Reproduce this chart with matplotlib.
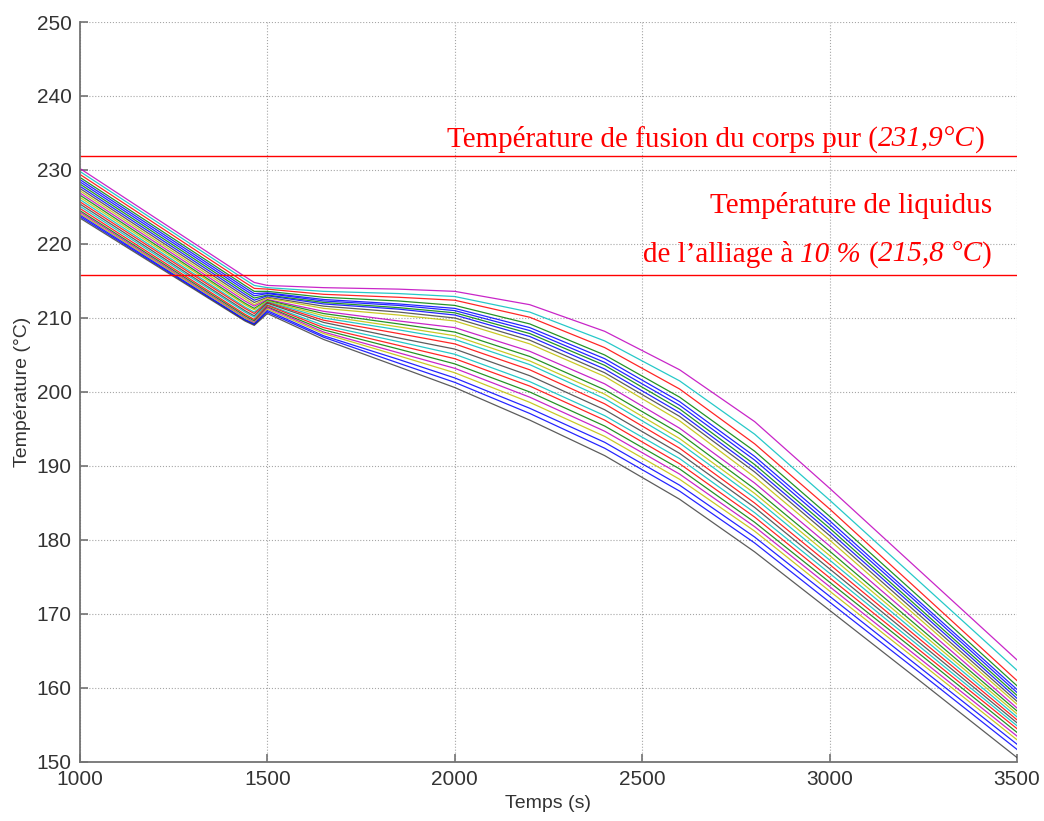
import matplotlib
matplotlib.use("Agg")
import matplotlib.pyplot as plt
from matplotlib.transforms import ScaledTranslation

# time stamps (s) where each cooling curve was read
temps_s = [1000, 1440, 1465, 1500, 1650, 1850, 2000, 2200, 2400, 2600, 2800, 3000, 3250, 3500]

# temperature (°C) of every thermocouple, top curve first
curves = [
    [230.2, 215.6, 214.8, 214.4, 214.1, 213.9, 213.6, 211.8, 208.2, 203.0, 196.0, 187.0, 175.4, 163.8],
    [229.8, 215.2, 214.4, 214.1, 213.6, 213.3, 212.9, 210.8, 206.9, 201.5, 194.3, 185.4, 173.9, 162.4],
    [229.4, 214.8, 214.0, 213.9, 213.2, 212.8, 212.4, 210.1, 206.0, 200.4, 193.0, 184.2, 172.6, 161.0],
    [229.0, 214.4, 213.6, 213.6, 212.8, 212.3, 211.7, 209.2, 205.0, 199.3, 192.0, 183.2, 171.8, 160.3],
    [228.7, 214.1, 213.3, 213.4, 212.5, 211.9, 211.3, 208.7, 204.5, 198.7, 191.3, 182.6, 171.2, 159.8],
    [228.4, 213.8, 213.0, 213.3, 212.3, 211.7, 211.0, 208.3, 204.0, 198.2, 190.8, 182.1, 170.8, 159.4],
    [228.1, 213.5, 212.7, 213.1, 212.1, 211.4, 210.7, 207.9, 203.6, 197.7, 190.2, 181.6, 170.3, 159.0],
    [227.8, 213.2, 212.4, 213.0, 211.9, 211.2, 210.4, 207.5, 203.1, 197.2, 189.7, 181.1, 169.9, 158.6],
    [227.5, 212.9, 212.1, 212.8, 211.6, 210.8, 210.0, 207.0, 202.6, 196.7, 189.2, 180.6, 169.4, 158.2],
    [227.2, 212.6, 211.8, 212.7, 211.3, 210.4, 209.6, 206.5, 202.1, 196.1, 188.5, 180.0, 168.9, 157.8],
    [226.9, 212.3, 211.6, 212.5, 210.9, 209.6, 208.7, 205.5, 201.1, 195.1, 187.7, 179.2, 168.3, 157.3],
    [226.6, 212.0, 211.3, 212.4, 210.6, 209.2, 208.1, 204.8, 200.3, 194.4, 186.9, 178.5, 167.7, 156.9],
    [226.3, 211.8, 211.1, 212.3, 210.3, 208.8, 207.6, 204.2, 199.7, 193.7, 186.3, 177.9, 167.2, 156.5],
    [226.0, 211.5, 210.8, 212.2, 210.0, 208.4, 207.1, 203.7, 199.1, 193.1, 185.7, 177.3, 166.7, 156.1],
    [225.7, 211.3, 210.6, 212.1, 209.7, 207.9, 206.5, 203.0, 198.4, 192.4, 185.0, 176.7, 166.2, 155.7],
    [225.4, 211.0, 210.3, 212.0, 209.4, 207.3, 205.8, 202.2, 197.6, 191.7, 184.4, 176.1, 165.7, 155.3],
    [225.1, 210.8, 210.1, 211.8, 209.0, 206.8, 205.1, 201.4, 196.8, 191.0, 183.7, 175.5, 165.2, 154.9],
    [224.8, 210.5, 209.8, 211.7, 208.7, 206.3, 204.5, 200.8, 196.2, 190.3, 183.1, 174.9, 164.7, 154.5],
    [224.5, 210.3, 209.6, 211.5, 208.4, 205.8, 203.8, 200.0, 195.4, 189.6, 182.4, 174.3, 164.2, 154.0],
    [224.3, 210.1, 209.4, 211.4, 208.1, 205.3, 203.2, 199.3, 194.7, 188.9, 181.8, 173.7, 163.6, 153.5],
    [224.1, 210.0, 209.3, 211.2, 207.9, 204.9, 202.6, 198.6, 194.0, 188.2, 181.2, 173.1, 163.1, 153.0],
    [223.9, 209.8, 209.2, 211.0, 207.6, 204.4, 201.9, 197.8, 193.2, 187.4, 180.4, 172.4, 162.4, 152.4],
    [223.7, 209.7, 209.1, 210.8, 207.4, 203.9, 201.3, 197.1, 192.4, 186.6, 179.6, 171.6, 161.7, 151.7],
    [223.5, 209.6, 209.0, 210.6, 207.1, 203.4, 200.6, 196.2, 191.4, 185.5, 178.4, 170.5, 160.6, 150.6],
]

T_fusion = 231.9
T_liquidus = 215.8

x_ticks = [1000, 1500, 2000, 2500, 3000, 3500]
y_ticks = [150, 160, 170, 180, 190, 200, 210, 220, 230, 240, 250]

# old matlab colour order
mcol = {
    "b": (0, 0, 1), "g": (0, 0.5, 0), "r": (1, 0, 0), "c": (0, 0.75, 0.75),
    "m": (0.75, 0, 0.75), "y": (0.75, 0.75, 0), "k": (0.25, 0.25, 0.25),
}
curve_colors = ["m", "c", "r", "g", "b", "b", "g", "b", "k", "y", "m", "g",
                "y", "c", "r", "k", "c", "r", "g", "m", "y", "b", "b", "k"]

fig = plt.figure(figsize=(10.44, 8.21), dpi=100)
ax = fig.add_axes([0.0766, 0.0719, 0.8975, 0.9013])

for vals, c in zip(curves, curve_colors):
    ax.plot(temps_s, vals, color=mcol[c], lw=0.9, alpha=0.85)

ax.axhline(T_fusion, color="red", lw=1.0)
ax.axhline(T_liquidus, color="red", lw=1.0)

ax.set_xlim(1000, 3500)
ax.set_ylim(150, 250)
ax.set_xticks(x_ticks)
ax.set_yticks(y_ticks)
ax.grid(True, linestyle=":", color="0.65", lw=0.8)
for s in ["top", "right"]:
    ax.spines[s].set_visible(False)
for s in ["left", "bottom"]:
    ax.spines[s].set_color("0.45")
    ax.spines[s].set_linewidth(1.3)
ax.tick_params(direction="in", length=6, width=1.2, color="0.45",
               labelsize=15, labelcolor="0.2", pad=6)
for lab in ax.get_xticklabels() + ax.get_yticklabels():
    lab.set_family("Liberation Sans")

ax.set_xlabel("Temps (s)", family="Liberation Sans", fontsize=14, color="0.2", labelpad=4)
ax.set_ylabel("Température (°C)", family="Liberation Sans", fontsize=14, color="0.2", labelpad=4)


def rich_line(x, y, parts, size=21):
    # parts: (text, italic, space before) - drawn left to right, right edge at x
    texts, gaps = [], []
    for s, it, sp in parts:
        t = ax.text(x, y, s, ha="left", va="baseline", color="red", fontsize=size,
                    family="Liberation Serif", style="italic" if it else "normal")
        texts.append(t)
        gaps.append(sp)
    probe = ax.text(x, y, "a a", fontsize=size, family="Liberation Serif")
    probe2 = ax.text(x, y, "aa", fontsize=size, family="Liberation Serif")
    fig.canvas.draw()
    r = fig.canvas.get_renderer()
    space = probe.get_window_extent(r).width - probe2.get_window_extent(r).width
    probe.remove()
    probe2.remove()
    widths = [t.get_window_extent(r).width for t in texts]
    total = sum(widths) + space * sum(gaps)
    off = -total
    for t, w, sp in zip(texts, widths, gaps):
        if sp:
            off += space
        t.set_transform(ax.transData + ScaledTranslation(off / fig.dpi, 0, fig.dpi_scale_trans))
        off += w


rich_line(3414, 233.2, [("Température de fusion du corps pur (", False, False),
                        ("231,9°C", True, False), (")", False, False)])
rich_line(3433, 224.2, [("Température de liquidus", False, False)])
rich_line(3433, 217.6, [("de l’alliage à", False, False), ("10 %", True, True),
                        ("(", False, True), ("215,8 °C", True, False), (")", False, False)])

fig.savefig("out.png", dpi=100)
